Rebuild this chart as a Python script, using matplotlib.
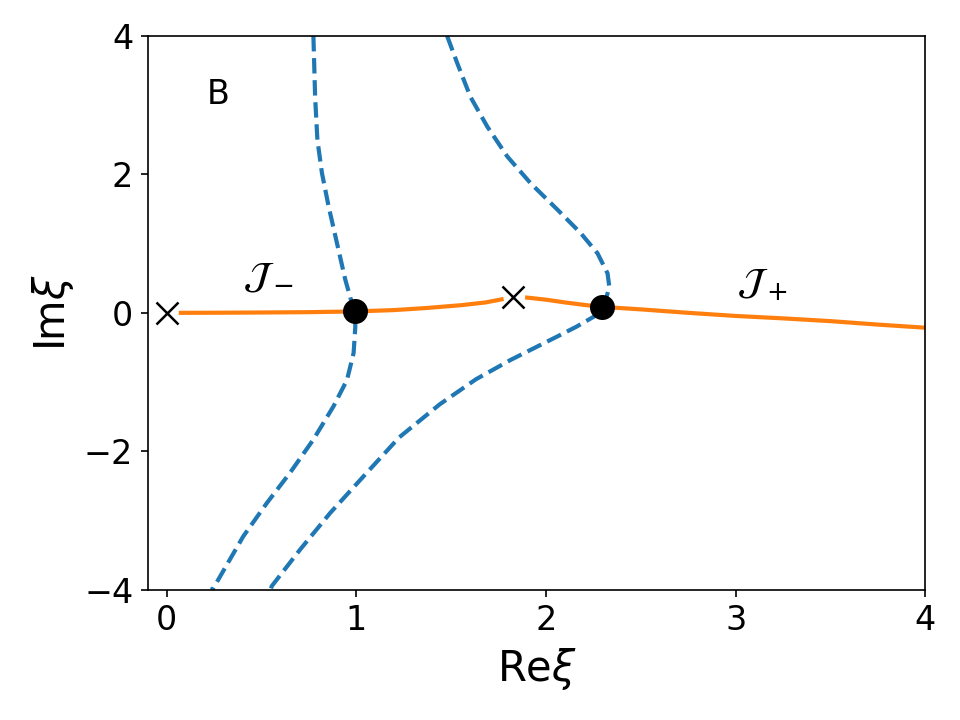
import matplotlib
matplotlib.use("Agg")
import matplotlib.pyplot as plt
import numpy as np

# orange thimbles
jm_x = [0.074, 0.3, 0.5, 0.75, 0.99, 1.2, 1.37, 1.55, 1.68, 1.765]
jm_y = [0.0, 0.002, 0.005, 0.01, 0.02, 0.04, 0.07, 0.11, 0.15, 0.195]
jp_x = [1.90, 2.0, 2.1, 2.2, 2.29, 2.5, 2.75, 3.0, 3.25, 3.5, 3.75, 4.0]
jp_y = [0.22, 0.19, 0.15, 0.115, 0.087, 0.05, 0.0, -0.045, -0.08, -0.12, -0.17, -0.215]

# blue dashed curves
k1_x = [0.773, 0.782, 0.794, 0.818, 0.853, 0.897, 0.941, 0.976, 0.99, 0.994, 0.985,
        0.950, 0.879, 0.773, 0.650, 0.527, 0.403, 0.245, 0.233]
k1_y = [4.0, 3.12, 2.50, 2.02, 1.54, 1.01, 0.48, 0.14, 0.02, -0.198, -0.58,
        -0.97, -1.35, -1.83, -2.31, -2.75, -3.23, -3.98, -4.0]
k2_x = [1.478, 1.531, 1.601, 1.690, 1.795, 1.919, 2.060, 2.183, 2.271, 2.324, 2.333,
        2.315, 2.294, 2.253, 2.160, 2.060, 1.813, 1.630, 1.440, 1.225, 1.038, 0.862,
        0.703, 0.553, 0.548]
k2_y = [4.0, 3.61, 3.12, 2.69, 2.26, 1.87, 1.49, 1.15, 0.86, 0.57, 0.38,
        0.19, 0.087, -0.053, -0.20, -0.34, -0.68, -0.96, -1.32, -1.80, -2.36, -2.89,
        -3.42, -3.95, -4.0]

saddle_x = [0.99, 2.294]
saddle_y = [0.02, 0.087]
sing_x = [0.0, 1.827]
sing_y = [0.0, 0.235]

fig = plt.figure(figsize=(6.4, 4.8), dpi=150)
ax = fig.add_axes([0.154, 0.181, 0.81, 0.769])

ax.plot(k1_x, k1_y, '--', color='#1f77b4', lw=2)
ax.plot(k2_x, k2_y, '--', color='#1f77b4', lw=2)
ax.plot(jm_x, jm_y, '-', color='#ff7f0e', lw=2)
ax.plot(jp_x, jp_y, '-', color='#ff7f0e', lw=2)
ax.plot(saddle_x, saddle_y, 'o', color='black', ms=11, zorder=5)
ax.plot(sing_x, sing_y, 'x', color='black', ms=11, mew=1.2, zorder=5)

ax.text(0.27, 3.15, 'B', fontsize=16, ha='center', va='center')
ax.text(0.534, 0.52, r'$\mathcal{J}_-$', fontsize=18, ha='center', va='center')
ax.text(3.14, 0.40, r'$\mathcal{J}_+$', fontsize=18, ha='center', va='center')

ax.set_xlim(-0.1, 4)
ax.set_ylim(-4, 4)
ax.set_xticks([0, 1, 2, 3, 4])
ax.set_yticks([-4, -2, 0, 2, 4])
ax.tick_params(labelsize=16)
ax.set_xlabel(r'Re$\xi$', fontsize=20)
ax.set_ylabel(r'Im$\xi$', fontsize=20)

fig.savefig('out.png', dpi=150)
